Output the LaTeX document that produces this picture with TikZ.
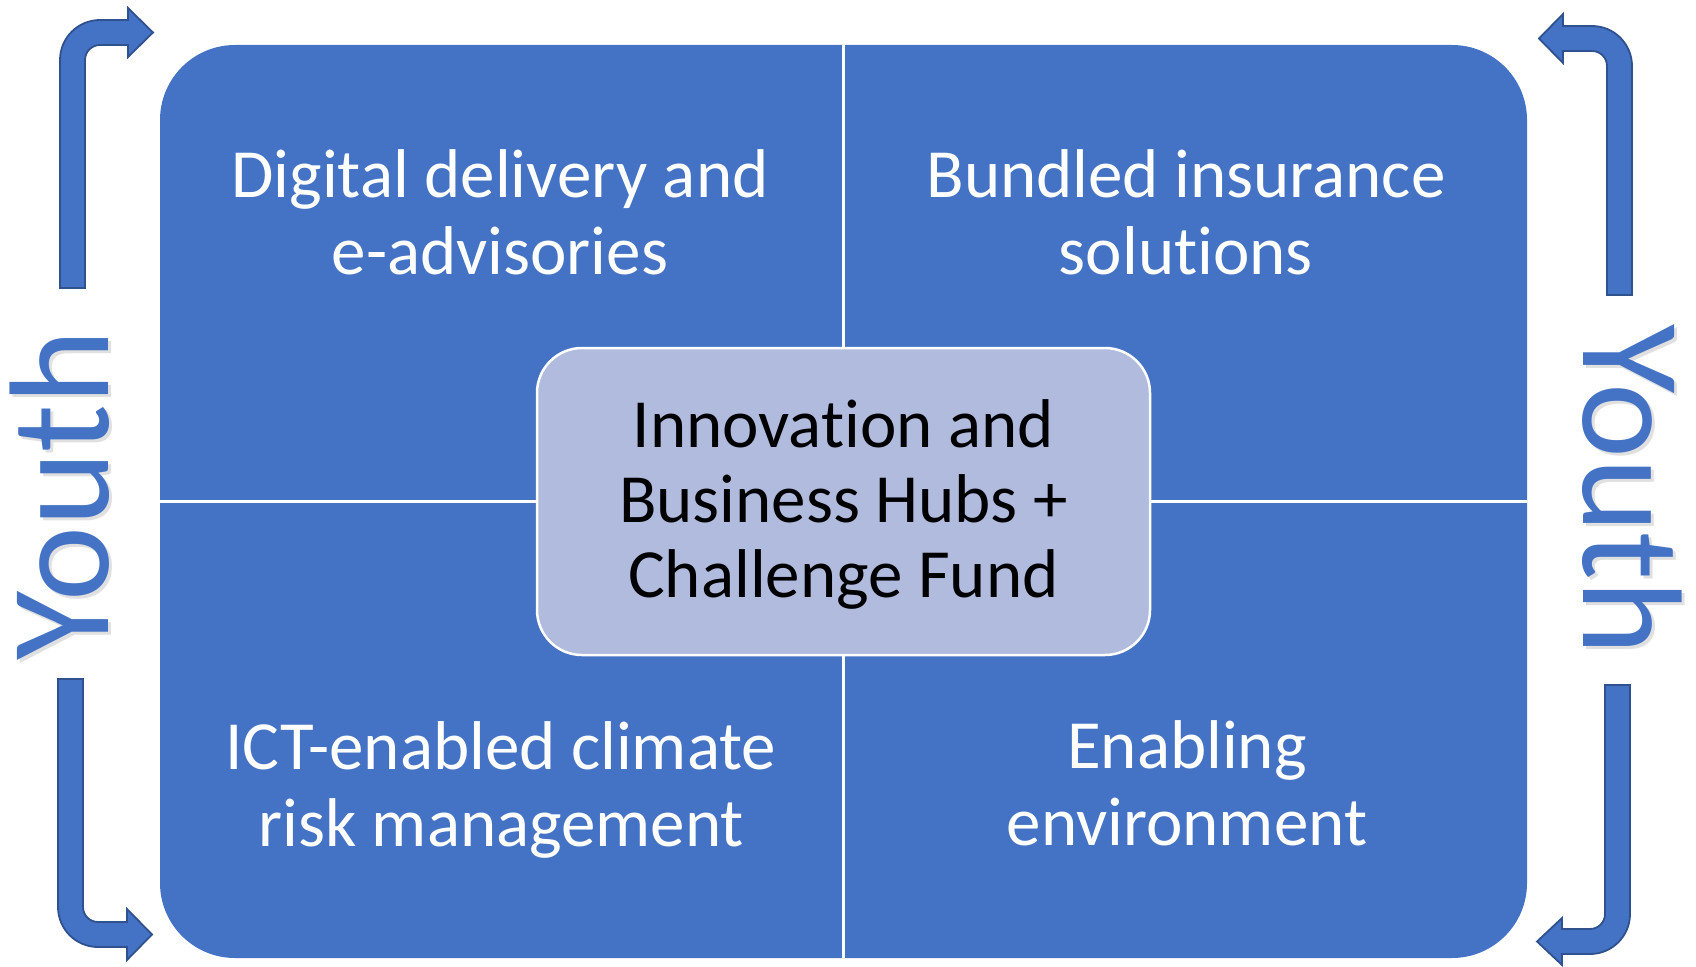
\documentclass[tikz,border=0pt]{standalone}
\usepackage{fontspec}
\setmainfont{Carlito}[Ligatures=CommonOff]
\definecolor{mainblue}{HTML}{4472C4}
\definecolor{hubfill}{RGB}{176,187,222}
\definecolor{arrowline}{HTML}{2F528F}
\tikzset{
  quadtext/.style={text=white, font=\fontsize{69}{77}\selectfont, anchor=base, inner sep=0pt},
  hubtext/.style={text=black, font=\fontsize{69}{75}\selectfont, anchor=base, inner sep=0pt},
  youthtext/.style={text=mainblue, font=\fontsize{142}{146}\selectfont, anchor=base, inner sep=0pt},
  youthshadow/.style={text=black, opacity=0.12, font=\fontsize{142}{146}\selectfont, anchor=base, inner sep=0pt},
  bentarrow/.style={fill=mainblue, draw=arrowline, line width=1.8pt, line join=miter},
  divider/.style={draw=white, line width=2.5pt}
}
\begin{document}
\begin{tikzpicture}[x=1pt,y=-1pt]
\useasboundingbox (0,0) rectangle (1696,966);

% main rounded panel
\node[fill=mainblue, rounded corners=75pt, minimum width=1367pt, minimum height=913pt, inner sep=0pt] (main) at (843.5,501.5) {};

% hub
\node[fill=hubfill, draw=white, line width=2.5pt, rounded corners=45pt, minimum width=613pt, minimum height=307pt, inner sep=0pt] (hub) at (843.5,501.5) {};

% dividers
\draw[divider] (hub.north) -- (hub.north |- main.north);
\draw[divider] (hub.south) -- (hub.south |- main.south);
\draw[divider] (hub.west) -- (hub.west -| main.west);
\draw[divider] (hub.east) -- (hub.east -| main.east);

% quadrant texts
\node[quadtext] (tl) at (500,197) {\begin{tabular}[t]{@{}c@{}}Digital delivery and\\e-advisories\end{tabular}};
\node[quadtext] (tr) at (1186,197) {\begin{tabular}[t]{@{}c@{}}Bundled insurance\\solutions\end{tabular}};
\node[quadtext] (bl) at (501,769) {\begin{tabular}[t]{@{}c@{}}ICT-enabled climate\\risk management\end{tabular}};
\node[quadtext] (br) at (1187,768) {\begin{tabular}[t]{@{}c@{}}Enabling\\environment\end{tabular}};

% hub text
\node[hubtext] (hubt) at (843.5,447) {\begin{tabular}[t]{@{}c@{}}Innovation and\\Business Hubs +\\Challenge Fund\end{tabular}};

% Youth labels
\node[youthshadow, rotate=90] (youthLs) at (111,498) {Youth};
\node[youthtext, rotate=90] (youthL) at (108,495) {Youth};
\node[youthshadow, rotate=-90] (youthRs) at (1586,493) {Youth};
\node[youthtext, rotate=-90] (youthR) at (1583,490) {Youth};

% bent arrows
\path[bentarrow] (60,288) -- (60,60) .. controls (60,37.9) and (77.9,20) .. (100,20) -- (128,20) -- (128,8) -- (153,32.5) -- (128,57) -- (128,45) -- (100,45) .. controls (91.7,45) and (85,51.7) .. (85,60) -- (85,288) -- cycle;

\path[bentarrow] (58,679) -- (58,907) .. controls (58,929.1) and (75.9,947) .. (98,947) -- (127,947) -- (127,960) -- (152,934.5) -- (127,909) -- (127,922) -- (98,922) .. controls (89.7,922) and (83,915.3) .. (83,907) -- (83,679) -- cycle;

\path[bentarrow] (1632,295) -- (1632,66) .. controls (1632,43.9) and (1614.1,26) .. (1592,26) -- (1563,26) -- (1563,14) -- (1539,38.5) -- (1563,63) -- (1563,51) -- (1592,51) .. controls (1600.3,51) and (1607,57.7) .. (1607,66) -- (1607,295) -- cycle;

\path[bentarrow] (1605,685) -- (1630,685) -- (1630,914) .. controls (1630,936.1) and (1612.1,954) .. (1590,954) -- (1562,954) -- (1562,965) -- (1537,941.5) -- (1562,918) -- (1562,929) -- (1590,929) .. controls (1598.3,929) and (1605,922.3) .. (1605,914) -- cycle;
\end{tikzpicture}
\end{document}
